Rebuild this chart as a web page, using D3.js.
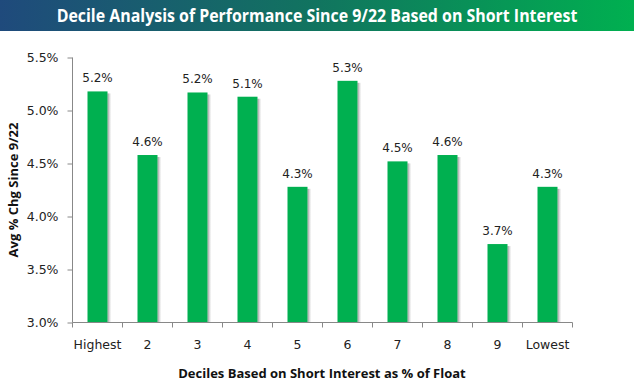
<!DOCTYPE html>
<html>
<head>
<meta charset="utf-8">
<script src="https://cdn.jsdelivr.net/npm/d3@7"></script>
<style>
  html, body { margin: 0; padding: 0; background: #fff; }
  svg { display: block; }
</style>
</head>
<body>
<svg id="chart" width="635" height="383"></svg>
<script>
const title = "Decile Analysis of Performance Since 9/22 Based on Short Interest";
const categories = ["Highest", "2", "3", "4", "5", "6", "7", "8", "9", "Lowest"];
const values = [5.18, 4.58, 5.17, 5.13, 4.28, 5.28, 4.52, 4.58, 3.74, 4.28];
const valueLabels = ["5.2%", "4.6%", "5.2%", "5.1%", "4.3%", "5.3%", "4.5%", "4.6%", "3.7%", "4.3%"];
const yTicks = [3.0, 3.5, 4.0, 4.5, 5.0, 5.5];
const yTitle = "Avg % Chg Since 9/22";
const xTitle = "Deciles Based on Short Interest as % of Float";

const svg = d3.select("#chart");
const defs = svg.append("defs");

const grad = defs.append("linearGradient").attr("id", "titleGrad")
  .attr("x1", "0%").attr("x2", "100%").attr("y1", "0%").attr("y2", "0%");
grad.append("stop").attr("offset", "0%").attr("stop-color", "#1f4a7c");
grad.append("stop").attr("offset", "50%").attr("stop-color", "#11745f");
grad.append("stop").attr("offset", "100%").attr("stop-color", "#00b050");

const sh = defs.append("linearGradient").attr("id", "shadowGrad")
  .attr("x1", "0%").attr("x2", "100%").attr("y1", "0%").attr("y2", "0%");
sh.append("stop").attr("offset", "0%").attr("stop-color", "#888").attr("stop-opacity", 0.9);
sh.append("stop").attr("offset", "100%").attr("stop-color", "#ccc").attr("stop-opacity", 0.0);

svg.append("rect").attr("x", 0).attr("y", 0).attr("width", 634).attr("height", 31)
  .attr("fill", "url(#titleGrad)");
const tScale = 0.91;
svg.append("text")
  .attr("transform", `translate(317,22) scale(${tScale},1)`)
  .attr("text-anchor", "middle")
  .attr("font-family", "'Open Sans', sans-serif").attr("font-weight", "bold")
  .attr("font-size", 17.5).attr("fill", "#fff")
  .text(title);

const x = d3.scaleBand().domain(categories).range([72.5, 572.5]).paddingInner(0).paddingOuter(0);
const y = d3.scaleLinear().domain([3.0, 5.5]).range([322.5, 57.5]);
const barW = 20;

const bars = svg.append("g");
bars.selectAll("rect.shadow").data(values).join("rect")
  .attr("class", "shadow")
  .attr("x", (d, i) => x(categories[i]) + x.bandwidth() / 2 - barW / 2 + barW)
  .attr("y", d => y(d) + 2)
  .attr("width", 4)
  .attr("height", d => y(3.0) - y(d) - 2)
  .attr("fill", "url(#shadowGrad)");
bars.selectAll("rect.bar").data(values).join("rect")
  .attr("class", "bar")
  .attr("x", (d, i) => x(categories[i]) + x.bandwidth() / 2 - barW / 2)
  .attr("y", d => y(d))
  .attr("width", barW)
  .attr("height", d => y(3.0) - y(d))
  .attr("fill", "#00b050");

svg.append("g").selectAll("text").data(values).join("text")
  .attr("x", (d, i) => x(categories[i]) + x.bandwidth() / 2)
  .attr("y", d => y(d) - 9)
  .attr("text-anchor", "middle")
  .attr("font-family", "'DejaVu Sans', Tahoma, sans-serif")
  .attr("font-size", 12).attr("fill", "#222")
  .text((d, i) => valueLabels[i]);

// Y axis
const yAxis = d3.axisLeft(y).tickValues(yTicks).tickSize(5).tickFormat(d => d.toFixed(1) + "%");
const gy = svg.append("g").attr("transform", "translate(72.5,0)").call(yAxis);
gy.select(".domain").attr("stroke", "#888").attr("d", "M0,57.5V322.5");
gy.selectAll(".tick line").attr("stroke", "#888");
gy.selectAll(".tick text").attr("font-family", "'DejaVu Sans', Tahoma, sans-serif")
  .attr("font-size", 12.5).attr("fill", "#222").attr("x", -14);

// X axis
const xAxis = d3.axisBottom(x).tickSize(0).tickSizeOuter(0);
const gx = svg.append("g").attr("transform", "translate(0,322.5)").call(xAxis);
gx.select(".domain").attr("stroke", "#888").attr("d", "M72.5,0H572.5");
gx.selectAll(".tick text").attr("font-family", "'DejaVu Sans', Tahoma, sans-serif")
  .attr("font-size", 12.5).attr("fill", "#222").attr("dy", 0).attr("y", 26);
const bounds = categories.map(c => x(c)).concat([x(categories[categories.length - 1]) + x.bandwidth()]);
gx.selectAll("line.bound").data(bounds).join("line")
  .attr("class", "bound")
  .attr("x1", d => d).attr("x2", d => d)
  .attr("y1", 0).attr("y2", 5)
  .attr("stroke", "#888");

// axis titles
svg.append("text")
  .attr("transform", "translate(18,190) rotate(-90)")
  .attr("text-anchor", "middle")
  .attr("font-family", "'Open Sans', sans-serif").attr("font-weight", "bold")
  .attr("font-size", 13).attr("fill", "#111")
  .text(yTitle);
svg.append("text")
  .attr("x", 322).attr("y", 378)
  .attr("text-anchor", "middle")
  .attr("font-family", "'Open Sans', sans-serif").attr("font-weight", "bold")
  .attr("font-size", 13).attr("fill", "#111")
  .text(xTitle);
</script>
</body>
</html>
